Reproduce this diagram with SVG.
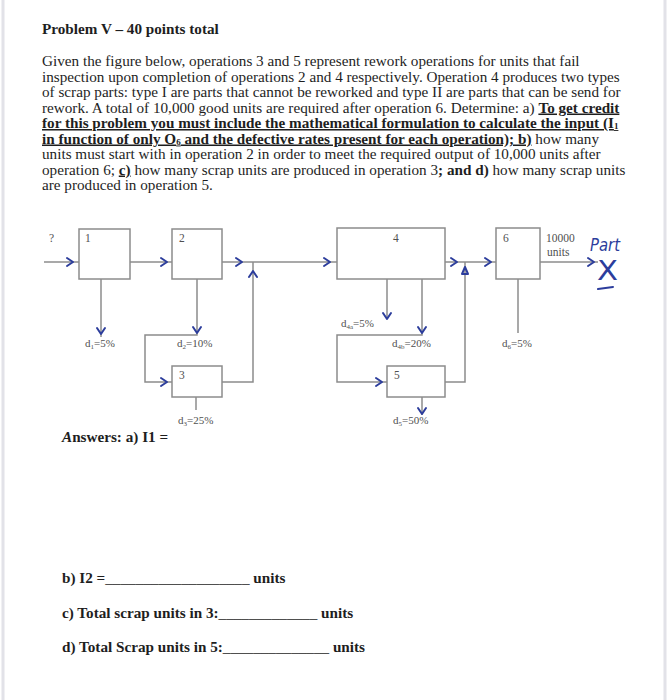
<svg xmlns="http://www.w3.org/2000/svg" xmlns:xlink="http://www.w3.org/1999/xlink" width="668" height="700" viewBox="0 0 668 700">
<style>
.t{font-family:"Liberation Serif","Times New Roman",serif;font-size:15.2px;fill:#1e1e1e}
.b{font-weight:bold}
.u{text-decoration:underline}
.box{fill:#fff;stroke:#8c8c8c;stroke-width:1.5}
.ln{fill:none;stroke:#8c8c8c;stroke-width:1.5}
.lbl{font-family:"Liberation Serif","Times New Roman",serif;font-size:11.5px;fill:#505050}
.sm{font-family:"Liberation Serif","Times New Roman",serif;font-size:11px;fill:#505050}
.chev{fill:none;stroke:#2c3d9c;stroke-width:2;stroke-linecap:round;stroke-linejoin:round}
.hand{font-family:"DejaVu Sans",sans-serif;fill:#2c3d9c}
</style>
<defs>
<path id="chev" d="M-6,-4 L0,0 L-6,4" class="chev"/>
</defs>
<rect width="668" height="700" fill="#fff"/>
<line x1="3" y1="0" x2="3" y2="700" stroke="#e2e2e8" stroke-width="3"/>
<line x1="665" y1="0" x2="665" y2="700" stroke="#e2e2e8" stroke-width="3"/>

<text class="t b" x="42" y="34" font-size="15.6">Problem V –  40 points total</text>
<text class="t" x="42" y="66">Given the figure below, operations 3 and 5 represent rework operations for units that fail</text>
<text class="t" x="42" y="81.5">inspection upon completion of operations 2 and 4 respectively. Operation 4 produces two types</text>
<text class="t" x="42" y="97">of scrap parts: type I are parts that cannot be reworked and type II are parts that can be send for</text>
<text class="t" x="42" y="112.5">rework. A total of 10,000 good units are required after operation 6. Determine: a)  <tspan class="b u">To get credit</tspan></text>
<text class="t b u" x="42" y="128">for this problem you must include the mathematical formulation to calculate the input (I<tspan font-size="9" dy="1">1</tspan></text>
<text class="t" x="42" y="143.5"><tspan class="b u">in function of only O<tspan font-size="9" dy="1">6</tspan><tspan dy="-1"> and the defective rates present for each operation); b)</tspan></tspan> how many</text>
<text class="t" x="42" y="159">units must start with in operation 2 in order to meet the required output of 10,000 units after</text>
<text class="t" x="42" y="174.5">operation 6; <tspan class="b u">c)</tspan> how many scrap units are produced in operation 3<tspan class="b">; and d)</tspan> how many scrap units</text>
<text class="t" x="42" y="190">are produced in operation 5.</text>

<g id="connectors">
<path class="ln" d="M44,262 H79"/>
<path class="ln" d="M130,262 H172"/>
<path class="ln" d="M222,262 H337"/>
<path class="ln" d="M445,262 H496"/>
<path class="ln" d="M540,262 H598"/>
<path class="ln" d="M101,279 V337"/>
<path class="ln" d="M197,279 V335 H145 V382 H172"/>
<path class="ln" d="M222,382 H253 V262"/>
<path class="ln" d="M196,397 V410"/>
<path class="ln" d="M387,279 V318"/>
<path class="ln" d="M422,279 V335 H337 V382 H387"/>
<path class="ln" d="M445,382 H465 V262"/>
<path class="ln" d="M422,397 V415"/>
<path class="ln" d="M518,279 V333"/>
<use href="#chev" x="73" y="262"/>
<use href="#chev" x="167" y="262"/>
<use href="#chev" x="242" y="262"/>
<use href="#chev" x="330" y="262"/>
<use href="#chev" x="457" y="262"/>
<use href="#chev" x="491" y="262"/>
<use href="#chev" x="594" y="262"/>
<use href="#chev" x="167" y="382"/>
<use href="#chev" x="382" y="382"/>
<use href="#chev" transform="translate(101,334) rotate(90)"/>
<use href="#chev" transform="translate(197,333) rotate(90)"/>
<use href="#chev" transform="translate(387,319) rotate(90)"/>
<use href="#chev" transform="translate(422,333) rotate(90)"/>
<use href="#chev" transform="translate(422,414) rotate(90)"/>
<use href="#chev" transform="translate(253,271) rotate(-90)"/>
<path class="chev" d="M462,274 L465,267 L468,274 Z"/>
</g>

<g id="input"><text class="lbl" x="49" y="242">?</text></g>
<g id="op1"><rect class="box" x="79" y="229" width="51" height="50"/><text class="lbl" x="85" y="242">1</text>
<text class="sm" x="85" y="347">d<tspan font-size="7" dy="1.5">1</tspan><tspan dy="-1.5">=5%</tspan></text></g>
<g id="op2"><rect class="box" x="172" y="229" width="50" height="50"/><text class="lbl" x="179" y="242">2</text>
<text class="sm" x="177" y="347">d<tspan font-size="7" dy="1.5">2</tspan><tspan dy="-1.5">=10%</tspan></text></g>
<g id="op3"><rect class="box" x="172" y="366" width="50" height="31"/><text class="lbl" x="179" y="379">3</text>
<text class="sm" x="178" y="424">d<tspan font-size="7" dy="1.5">3</tspan><tspan dy="-1.5">=25%</tspan></text></g>
<g id="op4"><rect class="box" x="337" y="228" width="108" height="51"/><text class="lbl" x="393" y="242">4</text>
<text class="sm" x="341" y="327">d<tspan font-size="7" dy="1.5">4a</tspan><tspan dy="-1.5">=5%</tspan></text>
<text class="sm" x="392" y="347">d<tspan font-size="7" dy="1.5">4b</tspan><tspan dy="-1.5">=20%</tspan></text></g>
<g id="op5"><rect class="box" x="387" y="366" width="58" height="31"/><text class="lbl" x="394" y="379">5</text>
<text class="sm" x="393" y="424">d<tspan font-size="7" dy="1.5">5</tspan><tspan dy="-1.5">=50%</tspan></text></g>
<g id="op6"><rect class="box" x="496" y="228" width="44" height="51"/><text class="lbl" x="503" y="242">6</text>
<text class="sm" x="502" y="347">d<tspan font-size="7" dy="1.5">6</tspan><tspan dy="-1.5">=5%</tspan></text>
<text class="lbl" x="546" y="242">10000</text><text class="lbl" x="547" y="256">units</text></g>
<g id="note"><text class="hand" x="590" y="251" font-size="17" font-style="italic" textLength="30" lengthAdjust="spacingAndGlyphs">Part</text>
<text class="hand" x="597" y="280" font-size="26" textLength="21" lengthAdjust="spacingAndGlyphs">X</text>
<path class="chev" d="M598,289 L613,287"/></g>

<text class="t b" x="62" y="442" font-size="15"><tspan font-style="italic">A</tspan>nswers: a) I1 =</text>
<text class="t b" x="62" y="583">b) I2 =<tspan font-weight="normal">___________________</tspan> units</text>
<text class="t b" x="62" y="618">c) Total scrap units in 3:<tspan font-weight="normal">_____________</tspan> units</text>
<text class="t b" x="62" y="652">d) Total Scrap units in 5:<tspan font-weight="normal">______________</tspan> units</text>
</svg>
